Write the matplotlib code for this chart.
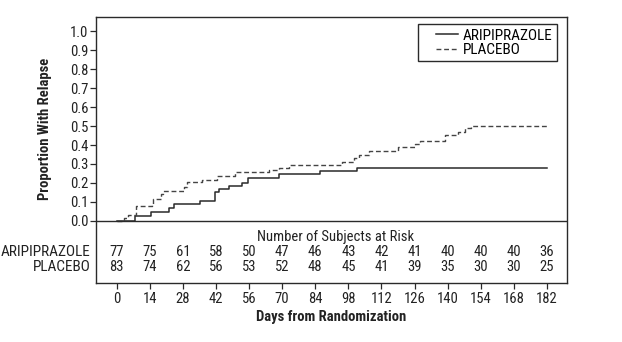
import matplotlib
matplotlib.use("Agg")
from matplotlib import pyplot as plt
from matplotlib.legend_handler import HandlerLine2D

# Kaplan-Meier style curves
arip_days = [0, 7.6, 14.7, 22.0, 24.2, 35.3, 41.8, 43.4, 47.6, 52.9, 55.5, 68.7, 85.8, 101.7, 182]
arip_prop = [0, 0.026, 0.047, 0.068, 0.090, 0.105, 0.150, 0.168, 0.185, 0.200, 0.226, 0.246, 0.261, 0.278, 0.278]

plac_days = [0, 3.2, 4.8, 8.3, 14.8, 15.5, 18.8, 19.5, 28.5, 29.8, 36.0, 42.5, 50.2, 64.5, 68.7, 73.0,
             95.3, 100.3, 102.4, 106.6, 119.2, 126.2, 128.3, 138.9, 144.5, 147.3, 149.8, 182]
plac_prop = [0, 0.014, 0.032, 0.078, 0.090, 0.116, 0.142, 0.156, 0.180, 0.205, 0.218, 0.237, 0.256, 0.268, 0.278, 0.295,
             0.312, 0.330, 0.347, 0.370, 0.390, 0.405, 0.420, 0.453, 0.470, 0.488, 0.502, 0.502]

risk_days = [0, 14, 28, 42, 56, 70, 84, 98, 112, 126, 140, 154, 168, 182]
arip_risk = [77, 75, 61, 58, 50, 47, 46, 43, 42, 41, 40, 40, 40, 36]
plac_risk = [83, 74, 62, 56, 53, 52, 48, 45, 41, 39, 35, 30, 30, 25]
yticks = [0.0, 0.1, 0.2, 0.3, 0.4, 0.5, 0.6, 0.7, 0.8, 0.9, 1.0]

plt.rcParams["font.family"] = ["Roboto Condensed", "Liberation Sans", "DejaVu Sans"]
ink = "#2a2a2a"
txt = "#222222"
fs = 10.5


class TrimmedLine(HandlerLine2D):
    # legend line that leaves some blank room on its left
    def create_artists(self, legend, orig_handle, xdescent, ydescent, width, height, fontsize, trans):
        s = 0.37 * width
        return super().create_artists(legend, orig_handle, xdescent - s, ydescent, width - s,
                                      height, fontsize, trans)


fig = plt.figure(figsize=(6.22, 3.42), dpi=100)
ax = fig.add_axes([0.154, 0.172, 0.757, 0.778])

ax.step(arip_days, arip_prop, where="post", color=ink, lw=1.1, label="ARIPIPRAZOLE")
ax.step(plac_days, plac_prop, where="post", color="#444444", lw=1.0,
        linestyle=(0, (3.5, 2)), label="PLACEBO")
ax.axhline(0, color=ink, lw=1.0)

ax.set_xlim(-8.8, 190.3)
ax.set_ylim(-0.328, 1.074)
ax.set_xticks(risk_days)
ax.set_yticks(yticks)
ax.set_yticklabels([f"{v:.1f}" for v in yticks])
ax.tick_params(axis="both", direction="out", length=4, width=0.9, color=ink,
               labelsize=fs, labelcolor=txt)
ax.tick_params(axis="x", pad=2.5)
ax.tick_params(axis="y", pad=1.5)
for s in ax.spines.values():
    s.set_color(ink)
    s.set_linewidth(1.0)

ax.set_ylabel("Proportion With Relapse", fontsize=fs, fontweight="bold", color=txt)
ax.yaxis.set_label_coords(-0.093, 0.581)
ax.set_xlabel("Days from Randomization", fontsize=fs, fontweight="bold", color=txt,
              labelpad=3)

# number at risk table inside the lower part of the box
ax.text(92.5, -0.084, "Number of Subjects at Risk", ha="center", va="center",
        fontsize=fs, color=txt)
for d, a, p in zip(risk_days, arip_risk, plac_risk):
    ax.text(d, -0.166, str(a), ha="center", va="center", fontsize=fs, color=txt)
    ax.text(d, -0.242, str(p), ha="center", va="center", fontsize=fs, color=txt)
ax.text(-10.9, -0.166, "ARIPIPRAZOLE", ha="right", va="center", fontsize=11, color=txt)
ax.text(-10.9, -0.242, "PLACEBO", ha="right", va="center", fontsize=11, color=txt)

leg = ax.legend(loc="upper right", bbox_to_anchor=(0.979, 0.974), borderaxespad=0,
                fontsize=11, fancybox=False, framealpha=1, edgecolor=ink,
                handlelength=2.3, handletextpad=0.3, borderpad=0.3, labelspacing=0.02,
                handler_map={matplotlib.lines.Line2D: TrimmedLine()})
leg.get_frame().set_linewidth(1.0)

fig.savefig("out.png", dpi=100)
